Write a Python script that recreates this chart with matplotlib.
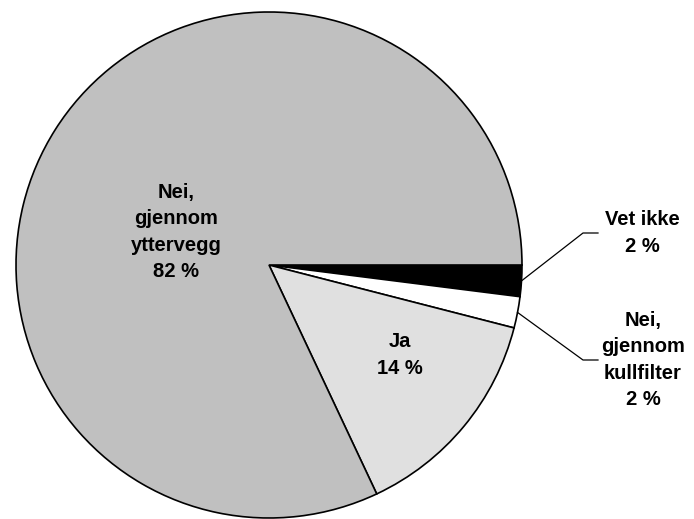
import numpy as np
import matplotlib
matplotlib.use("Agg")
import matplotlib.pyplot as plt

labels = ["Vet ikke", "Nei,\ngjennom\nkullfilter", "Ja", "Nei,\ngjennom\nyttervegg"]
values = [2, 2, 14, 82]
colors = ["#000000", "#FFFFFF", "#E0E0E0", "#C0C0C0"]

W, H = 694, 519
fig = plt.figure(figsize=(W / 100, H / 100), dpi=100)
ax = fig.add_axes([0, 0, 1, 1])

cx, cy, r = 269, H - 265, 253
wedges, _ = ax.pie(values, colors=colors, startangle=0, counterclock=False,
                   center=(cx, cy), radius=r, frame=True,
                   wedgeprops=dict(edgecolor="black", linewidth=1.2))
ax.set_xlim(0, W)
ax.set_ylim(0, H)
ax.set_aspect("equal")
ax.axis("off")

font = dict(family="Liberation Sans", fontweight="bold", fontsize=14.5,
            ha="center", va="center", linespacing=1.5)

# labels inside the big slices
ax.text(176, H - 232, f"{labels[3]}\n{values[3]} %", **font)
ax.text(400, H - 355, f"{labels[2]}\n{values[2]} %", **font)

# outside labels with leader lines
outside = [(0, 642, H - 233, H - 233), (1, 643, H - 360, H - 360)]
for i, tx, ty, ly in outside:
    w = wedges[i]
    mid = np.deg2rad((w.theta1 + w.theta2) / 2)
    x0 = cx + r * np.cos(mid)
    y0 = cy + r * np.sin(mid)
    ax.plot([x0, 583, 598], [y0, ly, ly], color="black", lw=0.9)
    ax.text(tx, ty, f"{labels[i]}\n{values[i]} %", **font)

fig.savefig("out.png", dpi=100)
